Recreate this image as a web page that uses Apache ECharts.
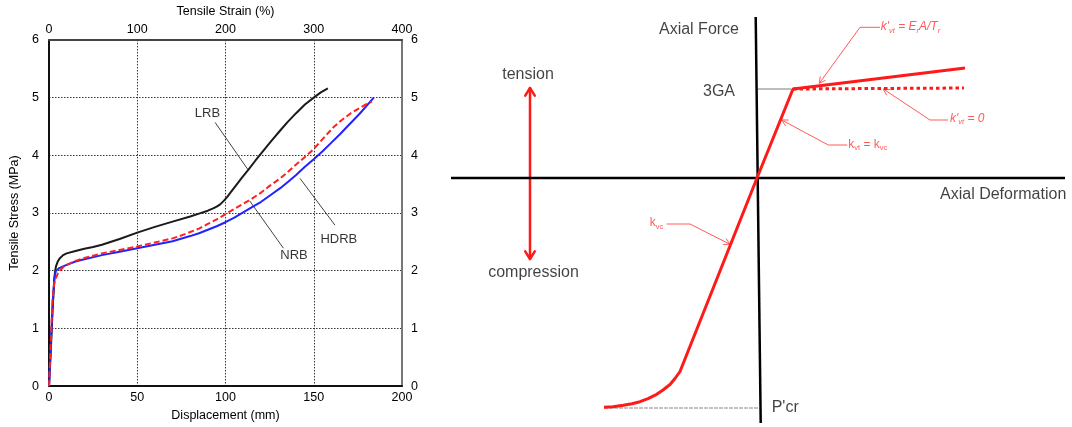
<!DOCTYPE html>
<html><head><meta charset="utf-8">
<script src="https://cdn.jsdelivr.net/npm/echarts@6/dist/echarts.min.js"></script>
<style>html,body{margin:0;padding:0;background:#fff}#c{width:1072px;height:427px}</style>
</head><body><div id="c"></div>
<script>
// ================= LEFT CHART DATA =================
const dispTicks = [0, 50, 100, 150, 200];          // Displacement (mm)
const strainTicks = [0, 100, 200, 300, 400];       // Tensile strain (%)
const stressTicks = [0, 1, 2, 3, 4, 5, 6];         // Tensile stress (MPa)

const lrb = [[0,0],[1,0.6],[2,1.3],[3,1.85],[3.5,2.0],[4,2.08],[5,2.16],[6,2.21],[8,2.27],[10,2.3],[15,2.34],[20,2.38],[25,2.41],[30,2.45],[40,2.55],[50,2.66],[60,2.76],[70,2.85],[80,2.94],[85,2.99],[90,3.04],[93,3.08],[95,3.11],[97,3.15],[99,3.21],[101,3.28],[103,3.36],[105,3.44],[109,3.6],[113,3.75],[117,3.91],[121.5,4.08],[126,4.25],[131,4.43],[135,4.57],[140,4.73],[145,4.88],[150,5.0],[154,5.09],[158,5.16]];
const hdrb = [[0,0],[1,0.7],[2,1.4],[3,1.85],[3.5,1.95],[4,2.0],[6,2.05],[10,2.1],[15,2.16],[20,2.2],[30,2.27],[40,2.33],[50,2.39],[60,2.45],[70,2.51],[80,2.6],[85,2.65],[90,2.71],[95,2.77],[100,2.84],[105,2.92],[110,3.01],[116,3.12],[120,3.19],[125,3.3],[131,3.43],[135,3.53],[140,3.66],[145,3.8],[150,3.93],[155,4.07],[160,4.22],[165,4.37],[169,4.5],[176,4.72],[184,5.0]];
const nrb = [[0,0],[1,0.75],[2,1.5],[3,1.78],[4,1.88],[5,1.95],[6,2.0],[8,2.06],[10,2.1],[15,2.17],[20,2.22],[30,2.3],[40,2.36],[50,2.42],[60,2.49],[70,2.56],[74,2.6],[80,2.67],[85,2.73],[90,2.81],[95,2.89],[100,2.98],[105,3.07],[110,3.16],[114,3.23],[120,3.35],[125,3.47],[131,3.6],[135,3.7],[140,3.84],[145,3.97],[150,4.11],[155,4.28],[161,4.48],[165,4.59],[171,4.73],[176,4.82],[180,4.89],[183,4.93]];

const leftLabels = [['LRB', 89.8, 4.73], ['NRB', 138.8, 2.27], ['HDRB', 164.2, 2.55]];
const leftLeaders = [
  [[94.1, 4.57], [113, 3.74]],
  [[132.8, 2.39], [113.7, 3.21]],
  [[162, 2.79], [142.2, 3.6]]
];

// ================= RIGHT DIAGRAM DATA (deformation, force offsets) =================
const forceAxisLine = [[-1.3, 161], [3.7, -245]];
const deformAxisLine = [[-306, 0], [308, 0]];
const tensionSolid = [[0, 0], [36, 89], [208, 110]];
const tensionDotted = [[36, 89], [207, 90]];
const yieldGray = [[1, 89], [34, 89]];
const pcrGray = [[-153, -230], [2, -230]];
const compression = [[-153,-229.3],[-144,-228.8],[-133.7,-227.3],[-125,-225.8],[-117,-223.7],[-109,-220.6],[-100.3,-216.3],[-94,-212],[-87,-206.5],[-82,-200.5],[-77,-193.5],[0,0]];
const directionArrow = [[-227, 90], [-227, -81]];

const rightTexts = [
  ['Axial Force', -18, 148, 'right'],
  ['3GA', -22, 86, 'right'],
  ['Axial Deformation', 183, -17, 'left'],
  ['tension', -229, 103, 'center'],
  ['compression', -223.5, -95, 'center'],
  ["P'cr", 14.7, -230, 'left']
];
const annTexts = [
  ["{i|k'}{si|vt}{i| = E}{si|r}{i|A/T}{si|r}", 123.7, 151.3, 'left'],
  ["{i|k'}{si|vt}{i| = 0}", 193, 59.7, 'left'],
  ["{n|k}{s|vt}{n| = k}{s|vc}", 91.3, 33.7, 'left'],
  ["{n|k}{s|vc}", -93.7, -44.7, 'right']
];
const annLeaders = [
  [[123, 150.7], [103, 150.7], [62.3, 94.7]],
  [[191, 58], [173, 58], [126.3, 89]],
  [[90.3, 33], [71.3, 33], [24.7, 58]],
  [[-90.3, -46], [-67, -46], [-27, -66.3]]
];

// ---------- helpers ----------
function wing(from, tip, len, deg) {
  const dx = tip[0] - from[0], dy = tip[1] - from[1];
  const L = Math.hypot(dx, dy), ux = dx / L, uy = dy / L;
  const a = deg * Math.PI / 180, c = Math.cos(a), s = Math.sin(a);
  const w1 = [tip[0] - len * (ux * c - uy * s), tip[1] - len * (uy * c + ux * s)];
  const w2 = [tip[0] - len * (ux * c + uy * s), tip[1] - len * (uy * c - ux * s)];
  return { coords: [w1, tip, w2] };
}

const NF = "'Liberation Sans Narrow','Arial Narrow','Liberation Sans',Arial,sans-serif";
const SF = "'Liberation Sans',Arial,Helvetica,sans-serif";
const RED = '#ff1a1a';
const ARED = '#ff3030';
const LRED = '#ff5a5a';

const annWings = annLeaders.map(p => wing(p[p.length - 2], p[p.length - 1], 7, 28));
const dirWings = [
  wing(directionArrow[1], directionArrow[0], 9, 32),
  wing(directionArrow[0], directionArrow[1], 9, 32)
];

function lineS(data, color, width, extra) {
  return Object.assign({
    type: 'line', xAxisIndex: 2, yAxisIndex: 2, data: data, symbol: 'none',
    lineStyle: { color: color, width: width }, silent: true, animation: false
  }, extra || {});
}

const chart = echarts.init(document.getElementById('c'), null, { renderer: 'canvas' });
const tickLabel = { fontFamily: NF, fontSize: 12.5, color: '#000' };
const nameStyle = { fontFamily: NF, fontSize: 12.5, color: '#000' };
const splitDot = { show: true, lineStyle: { type: [1.5, 1.5], color: '#333', width: 1 } };

chart.setOption({
  animation: false,
  backgroundColor: '#fff',
  grid: [
    { left: 49, right: 670, top: 38.5, bottom: 34.5 },
    { left: 450, top: 0, width: 622, height: 427 }
  ],
  xAxis: [
    { gridIndex: 0, type: 'value', position: 'bottom',
      min: dispTicks[0], max: dispTicks[dispTicks.length - 1], interval: dispTicks[1] - dispTicks[0],
      axisLine: { show: true, onZero: false, lineStyle: { color: '#111', width: 2 } },
      axisTick: { show: false }, axisLabel: Object.assign({ margin: 5 }, tickLabel),
      splitLine: splitDot,
      name: 'Displacement (mm)', nameLocation: 'middle', nameGap: 19.5, nameTextStyle: nameStyle },
    { gridIndex: 0, type: 'value', position: 'top',
      min: strainTicks[0], max: strainTicks[strainTicks.length - 1], interval: strainTicks[1] - strainTicks[0],
      axisLine: { show: true, onZero: false, lineStyle: { color: '#444', width: 2 } },
      axisTick: { show: false }, axisLabel: Object.assign({ margin: 4 }, tickLabel),
      splitLine: { show: false },
      name: 'Tensile Strain (%)', nameLocation: 'middle', nameGap: 18, nameTextStyle: nameStyle },
    { gridIndex: 1, type: 'value', min: -307, max: 315, show: false }
  ],
  yAxis: [
    { gridIndex: 0, type: 'value', position: 'left',
      min: stressTicks[0], max: stressTicks[stressTicks.length - 1], interval: stressTicks[1] - stressTicks[0],
      axisLine: { show: true, onZero: false, lineStyle: { color: '#111', width: 2 } },
      axisTick: { show: false }, axisLabel: Object.assign({ margin: 10 }, tickLabel),
      splitLine: splitDot,
      name: 'Tensile Stress (MPa)', nameLocation: 'middle', nameGap: 28, nameTextStyle: nameStyle },
    { gridIndex: 0, type: 'value', position: 'right',
      min: stressTicks[0], max: stressTicks[stressTicks.length - 1], interval: stressTicks[1] - stressTicks[0],
      axisLine: { show: true, onZero: false, lineStyle: { color: '#777', width: 2 } },
      axisTick: { show: false }, axisLabel: Object.assign({ margin: 9 }, tickLabel),
      splitLine: { show: false } },
    { gridIndex: 1, type: 'value', min: -249, max: 178, show: false }
  ],
  series: [
    // ---- left chart ----
    { name: 'LRB', type: 'line', xAxisIndex: 0, yAxisIndex: 0, data: lrb, symbol: 'none',
      smooth: false, lineStyle: { color: '#1a1a1a', width: 2, join: 'round' } },
    { name: 'HDRB', type: 'line', xAxisIndex: 0, yAxisIndex: 0, data: hdrb, symbol: 'none',
      smooth: false, lineStyle: { color: '#2222ff', width: 2, join: 'round' } },
    { name: 'NRB', type: 'line', xAxisIndex: 0, yAxisIndex: 0, data: nrb, symbol: 'none',
      smooth: false, lineStyle: { color: '#ff2020', width: 2, type: [6, 3] } },
    { type: 'lines', coordinateSystem: 'cartesian2d', xAxisIndex: 0, yAxisIndex: 0, polyline: true,
      data: leftLeaders.map(c => ({ coords: c })), lineStyle: { color: '#444', width: 1, opacity: 1 }, silent: true },
    { type: 'scatter', xAxisIndex: 0, yAxisIndex: 0, symbolSize: 0, silent: true,
      data: leftLabels.map(l => ({ name: l[0], value: [l[1], l[2]] })),
      label: { show: true, position: 'inside', formatter: p => p.name, fontFamily: NF, fontSize: 13, color: '#000' } },

    // ---- right diagram ----
    lineS(yieldGray, '#bdbdbd', 2),
    lineS(pcrGray, '#c4c4c4', 2, { lineStyle: { color: '#c4c4c4', width: 2, type: [4, 1] } }),
    lineS(forceAxisLine, '#000', 2.5),
    lineS(deformAxisLine, '#000', 2.5),
    lineS(tensionDotted, RED, 3, { lineStyle: { color: RED, width: 3, type: [3.5, 3] } }),
    lineS(tensionSolid, RED, 3),
    lineS(compression, RED, 3, { smooth: false, lineStyle: { color: RED, width: 3, join: 'round' } }),
    { type: 'lines', coordinateSystem: 'cartesian2d', xAxisIndex: 2, yAxisIndex: 2, polyline: true, silent: true,
      data: [{ coords: directionArrow }].concat(dirWings),
      lineStyle: { color: RED, width: 2.5, opacity: 1, cap: 'round', join: 'round' } },
    { type: 'lines', coordinateSystem: 'cartesian2d', xAxisIndex: 2, yAxisIndex: 2, polyline: true, silent: true,
      data: annLeaders.map(c => ({ coords: c })).concat(annWings),
      lineStyle: { color: LRED, width: 1, opacity: 1 } },
    { type: 'scatter', xAxisIndex: 2, yAxisIndex: 2, symbolSize: 0, silent: true,
      data: rightTexts.map(t => ({ name: t[0], value: [t[1], t[2]], label: { align: t[3] } })),
      label: { show: true, position: 'inside', formatter: p => p.name, fontFamily: SF, fontSize: 16, color: '#111', verticalAlign: 'middle' } },
    { type: 'scatter', xAxisIndex: 2, yAxisIndex: 2, symbolSize: 0, silent: true,
      data: annTexts.map(t => ({ name: t[0], value: [t[1], t[2]], label: { align: t[3] } })),
      label: { show: true, position: 'inside', formatter: p => p.name, verticalAlign: 'middle',
        rich: {
          i: { fontFamily: SF, fontSize: 12, fontStyle: 'italic', color: ARED, lineHeight: 16, verticalAlign: 'middle' },
          si: { fontFamily: SF, fontSize: 7.5, fontStyle: 'italic', color: ARED, lineHeight: 16, verticalAlign: 'bottom' },
          n: { fontFamily: SF, fontSize: 12, color: ARED, lineHeight: 16, verticalAlign: 'middle' },
          s: { fontFamily: SF, fontSize: 7.5, color: ARED, lineHeight: 16, verticalAlign: 'bottom' }
        } } }
  ]
});
</script></body></html>
